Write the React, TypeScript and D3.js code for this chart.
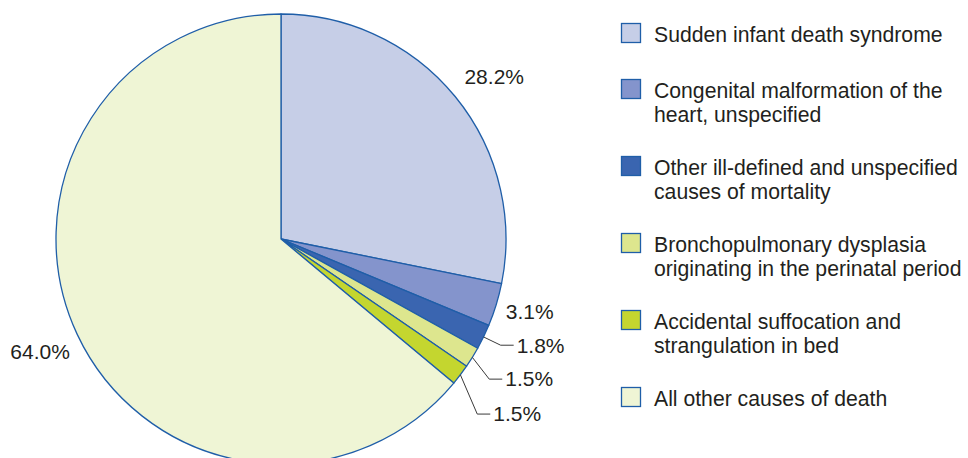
import { useMemo } from 'react';
import * as d3 from 'd3';

// Infant mortality causes, share of deaths (%)
const causes = [
	['Sudden infant death syndrome'],
	['Congenital malformation of the', 'heart, unspecified'],
	['Other ill-defined and unspecified', 'causes of mortality'],
	['Bronchopulmonary dysplasia', 'originating in the perinatal period'],
	['Accidental suffocation and', 'strangulation in bed'],
	['All other causes of death'],
];
const shares = [28.2, 3.1, 1.8, 1.5, 1.5, 64.0];
const shareLabels = ['28.2%', '3.1%', '1.8%', '1.5%', '1.5%', '64.0%'];
const colors = ['#c6cee7', '#8494cc', '#3a65b0', '#dde68e', '#c4d62f', '#eff5d5'];
// slices too thin for an inline label get a leader line
const leaderSlices = [2, 3, 4];

const W = 968;
const H = 458;
const CX = 281;
const CY = 239;
const R = 225;
const STROKE = '#1f5ea8';
const TEXT = '#231f20';
const FONT = '"Liberation Sans", Arial, sans-serif';

const polar = (angle: number, r: number): [number, number] => [CX + r * Math.sin(angle), CY - r * Math.cos(angle)];

export default function App() {
	const arcs = useMemo(
		() =>
			d3
				.pie<number>()
				.sort(null)
				.value((d) => d)(shares),
		[]
	);
	const arc = d3.arc<d3.PieArcDatum<number>>().innerRadius(0).outerRadius(R);

	// legend rows: baseline of first line of each entry
	const rowY: number[] = [];
	causes.forEach((lines, i) => {
		rowY.push(i === 0 ? 42 : rowY[i - 1] + (causes[i - 1].length - 1) * 24 + (i === 1 ? 56 : 53));
	});

	const deg = Math.PI / 180;
	const leaderRadius = [244, 251, 263];
	const leaderShift = [0, 2.2, 4.6];
	// small angular nudges for the inline labels (slice index -> degrees)
	const labelShift: Record<number, number> = { 0: 2, 1: -0.8, 5: 0 };
	const labelRadius: Record<number, number> = { 0: 268, 1: 259, 5: 266 };

	return (
		<div style={{ position: 'fixed', left: 0, top: 0 }}>
			<svg width={W} height={H} style={{ display: 'block', background: '#fff' }} fontFamily={FONT}>
				<g transform={`translate(${CX},${CY})`}>
					{arcs.map((a, i) => (
						<path key={i} d={arc(a) || ''} fill={colors[i]} stroke={STROKE} strokeWidth={1.3} strokeLinejoin="round" />
					))}
				</g>

				{arcs.map((a, i) => {
					const mid = (a.startAngle + a.endAngle) / 2;
					const k = leaderSlices.indexOf(i);
					if (k < 0) {
						const [x, y] = polar(mid + labelShift[i] * deg, labelRadius[i]);
						return (
							<text key={i} x={x} y={y} dy="0.35em" textAnchor="middle" fontSize={21} fill={TEXT}>
								{shareLabels[i]}
							</text>
						);
					}
					const [x0, y0] = polar(mid, R);
					const [x1, y1] = polar(mid + leaderShift[k] * deg, leaderRadius[k]);
					const x2 = x1 + 13;
					return (
						<g key={i}>
							<polyline points={`${x0},${y0} ${x1},${y1} ${x2},${y1}`} fill="none" stroke="#3a3a3a" strokeWidth={1} />
							<text x={x2 + 3} y={y1} dy="0.35em" fontSize={21} fill={TEXT}>
								{shareLabels[i]}
							</text>
						</g>
					);
				})}

				{causes.map((lines, i) => (
					<g key={i}>
						<rect x={621.5} y={rowY[i] - 18.5} width={19} height={19} fill={colors[i]} stroke={STROKE} strokeWidth={1.3} />
						<text x={654} y={rowY[i]} fontSize={21.2} fill={TEXT}>
							{lines.map((t, j) => (
								<tspan key={j} x={654} dy={j === 0 ? 0 : 24}>
									{t}
								</tspan>
							))}
						</text>
					</g>
				))}
			</svg>
		</div>
	);
}
